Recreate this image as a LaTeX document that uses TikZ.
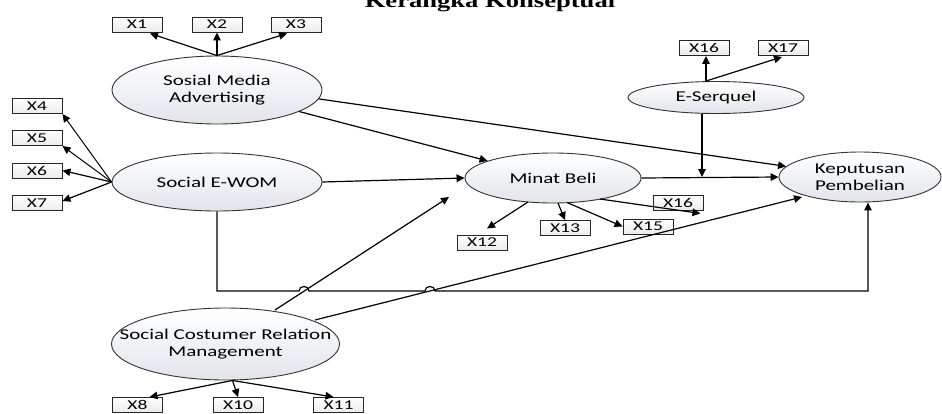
\documentclass[tikz,border=0pt]{standalone}
\usepackage{fontspec}
\usetikzlibrary{shapes.geometric,arrows.meta,calc}
\newfontfamily\elfont[FakeStretch=1.4]{Carlito}
\newfontfamily\bxfont[FakeStretch=1.45]{Carlito}
\newfontfamily\ttlfont[FakeStretch=1.35]{Liberation Serif}
\definecolor{elbot}{RGB}{226,228,236}
\begin{document}
\begin{tikzpicture}[x=1pt,y=-1pt,
  ell/.style={ellipse,draw=black!80,line width=0.9pt,top color=white,bottom color=elbot,inner sep=0pt},
  bx/.style={rectangle,draw=black!85,line width=0.9pt,top color=white,bottom color=black!8,minimum width=50pt,minimum height=15pt,inner sep=0pt,font=\bxfont\fontsize{13.5}{14}\selectfont},
  lab/.style={font=\elfont\fontsize{15}{16.5}\selectfont,align=center},
  conn/.style={line width=1.2pt,-{Triangle[length=8pt,width=7.5pt]}},
  thinconn/.style={line width=1pt,-{Triangle[length=8pt,width=7.5pt]}}]
\useasboundingbox (0,0) rectangle (942,413);

% title
\node (title) [anchor=base,inner sep=0pt,font=\ttlfont\bfseries\fontsize{19.7}{20}\selectfont] at (490,7) {Kerangka Konseptual};

% latent variables
\node[ell,minimum width=210pt,minimum height=68pt,label={[lab]center:Sosial Media\\Advertising}] (SMA) at (217,90) {};
\node[ell,minimum width=210pt,minimum height=58pt,label={[lab]center:Social E-WOM}] (SEW) at (217,182) {};
\node[ell,minimum width=176pt,minimum height=50pt,label={[lab]center:Minat Beli}] (MB) at (553,178) {};
\node[ell,minimum width=162pt,minimum height=50pt,label={[lab]center:Keputusan\\Pembelian}] (KP) at (860,177) {};
\node[ell,minimum width=176pt,minimum height=32pt,label={[lab]center:E-Serquel}] (ES) at (716,97.5) {};
\node[ell,minimum width=228pt,minimum height=72pt,label={[lab]center:Social Costumer Relation\\Management}] (SCRM) at (225.5,344) {};

% indicators
\node[bx] (x1) at (137,24.5) {X1};
\node[bx] (x2) at (217,24.5) {X2};
\node[bx] (x3) at (296,24.5) {X3};
\node[bx] (x4) at (37,106) {X4};
\node[bx] (x5) at (37,138) {X5};
\node[bx] (x6) at (37,170.5) {X6};
\node[bx] (x7) at (37,203) {X7};
\node[bx] (x16a) at (704,48) {X16};
\node[bx] (x17) at (783,48) {X17};
\node[bx] (x12) at (482,242.5) {X12};
\node[bx] (x13) at (565,228) {X13};
\node[bx] (x15) at (648,226.5) {X15};
\node[bx] (x16b) at (678,202.5) {X16};
\node[bx] (x8) at (137.5,405) {X8};
\node[bx] (x10) at (238,405) {X10};
\node[bx] (x11) at (338.5,405) {X11};

% indicator arrows
\draw[conn] (SMA.north) -- ($(x1.south)+(13,1)$);
\draw[conn] (SMA.north) -- (x2.south);
\draw[conn] (SMA.north) -- ($(x3.south)+(-9,1)$);
\draw[thinconn] (SEW.west) -- (x4.south east);
\draw[thinconn] (SEW.west) -- (x5.south east);
\draw[conn] (SEW.west) -- (x6.east);
\draw[conn] (SEW.west) -- ($(x7.east)+(0,-2)$);

\coordinate (esn) at ($(ES.north)+(-10,0)$);
\draw[conn] (esn) -- (esn |- x16a.south);
\draw[conn] (esn) -- ($(x17.south)+(-1,1)$);

\draw[conn] ($(MB)+(-25,24)$) -- ($(x12.north)+(5,-6)$);
\draw[conn] ($(MB)+(5,25)$) -- (x13.north);
\draw[conn] ($(MB)+(14,24.5)$) -- (x15.west);
\draw[conn] ($(MB)+(47,21)$) -- ($(x16b.south east)+(-3,3)$);

\coordinate (sb) at ($(SCRM.south)+(7,0)$);
\draw[conn] (sb) -- ($(x8.north)+(12,0)$);
\draw[conn] (sb) -- (x10.north);
\draw[conn] (sb) -- ($(x11.north)+(-5,0)$);

% structural paths
\draw[conn] (SEW.east) -- (MB.west);
\draw[conn] (SMA) -- (MB);
\draw[conn] (SMA.-5) -- (KP);
\draw[conn] (MB.east) -- (KP.west);
\coordinate (esj) at (702,177);
\draw[conn] (esj |- ES.south) -- (esj);

\coordinate (ly) at (0,291);
\coordinate (kb) at ($(KP.south)+(8,0)$);
\draw[conn] (SEW.south) -- (SEW.south |- ly) -- (299,291) .. controls (299,285) and (309,285) .. (309,291) -- (425,291) .. controls (425,285) and (435,285) .. (435,291) -- (kb |- ly) -- (kb);

\coordinate (t1) at ($(MB)+(-104,19)$);
\draw[conn] ($(SCRM)+(49.5,-34)$) -- (t1);
\draw[conn] ($(SCRM)+(89.5,-24)$) -- ($(KP)+(-58,20)$);
\end{tikzpicture}
\end{document}
